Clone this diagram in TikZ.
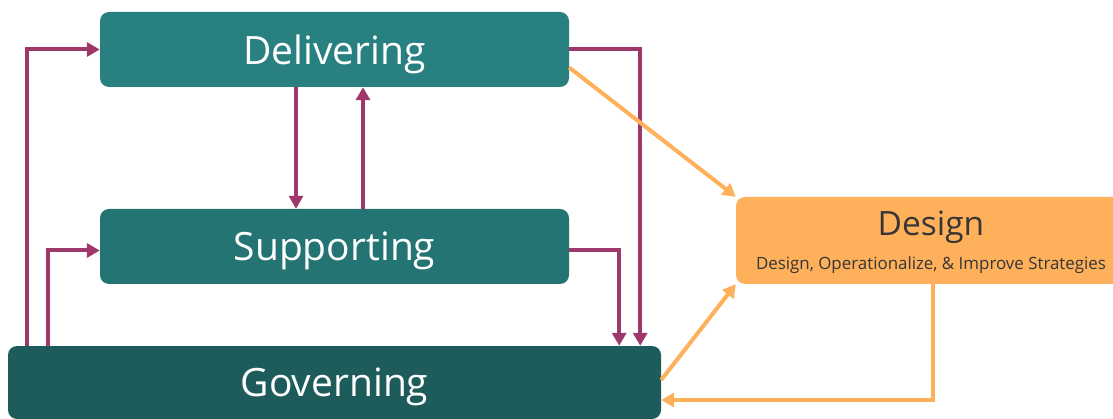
\documentclass[tikz,border=0pt]{standalone}
\usepackage{fontspec}
\setmainfont{Open Sans}
\usetikzlibrary{arrows.meta,positioning}
\definecolor{deliv}{HTML}{298080}
\definecolor{supp}{HTML}{247474}
\definecolor{gov}{HTML}{1E5C5C}
\definecolor{plum}{HTML}{9E386A}
\definecolor{amber}{HTML}{FFB05A}
\definecolor{ink}{HTML}{363636}
\begin{document}
\begin{tikzpicture}[x=1pt,y=-1pt,
   box/.style={rounded corners=9pt, inner sep=0pt, text=white, text depth=0pt,
     font=\fontsize{39}{40}\selectfont},
   flow/.style={draw=plum, line width=4pt, -{Triangle[length=13pt,width=14pt]}},
   back/.style={draw=amber, line width=4pt, -{Triangle[length=13pt,width=14pt]}}]
   \useasboundingbox (0,0) rectangle (1113,419);
   \node (D) [box, fill=deliv, minimum width=469pt, minimum height=75pt] at (334.5,49.5) {Delivering};
   \node (S) [box, fill=supp, minimum width=469pt, minimum height=75pt] at (334.5,246.5) {Supporting};
   \node (G) [box, fill=gov, minimum width=653pt, minimum height=73pt] at (334.5,382.5) {Governing};
   \node (X) [box, fill=amber, text=ink, align=center, minimum width=390pt, minimum height=87pt]
     at (931,240.5) {{\fontsize{33.5}{33}\selectfont Design}\\[-6pt]
     {\fontsize{16.9}{18}\selectfont Design, Operationalize, \& Improve Strategies}};
   \draw[flow] ([xshift=19pt]G.north west) |- (D.west);
   \draw[flow] ([xshift=40pt]G.north west) |- ([yshift=-4pt]S.west);
   \draw[flow] ([xshift=-38.5pt]D.south) -- ([xshift=-38.5pt]S.north);
   \draw[flow] ([xshift=28.5pt]S.north) -- ([xshift=28.5pt]D.south);
   \draw[flow] ([yshift=-4pt]S.east) -| ([xshift=-42pt]G.north east);
   \draw[flow] (D.east) -| ([xshift=-21pt]G.north east);
   \draw[back] ([yshift=-18pt]D.east) -- (X.north west);
   \draw[back] ([yshift=2.5pt]G.east) -- (X.south west);
   \draw[back] ([xshift=1.5pt]X.south) |- ([yshift=-17.5pt]G.east);
\end{tikzpicture}
\end{document}
